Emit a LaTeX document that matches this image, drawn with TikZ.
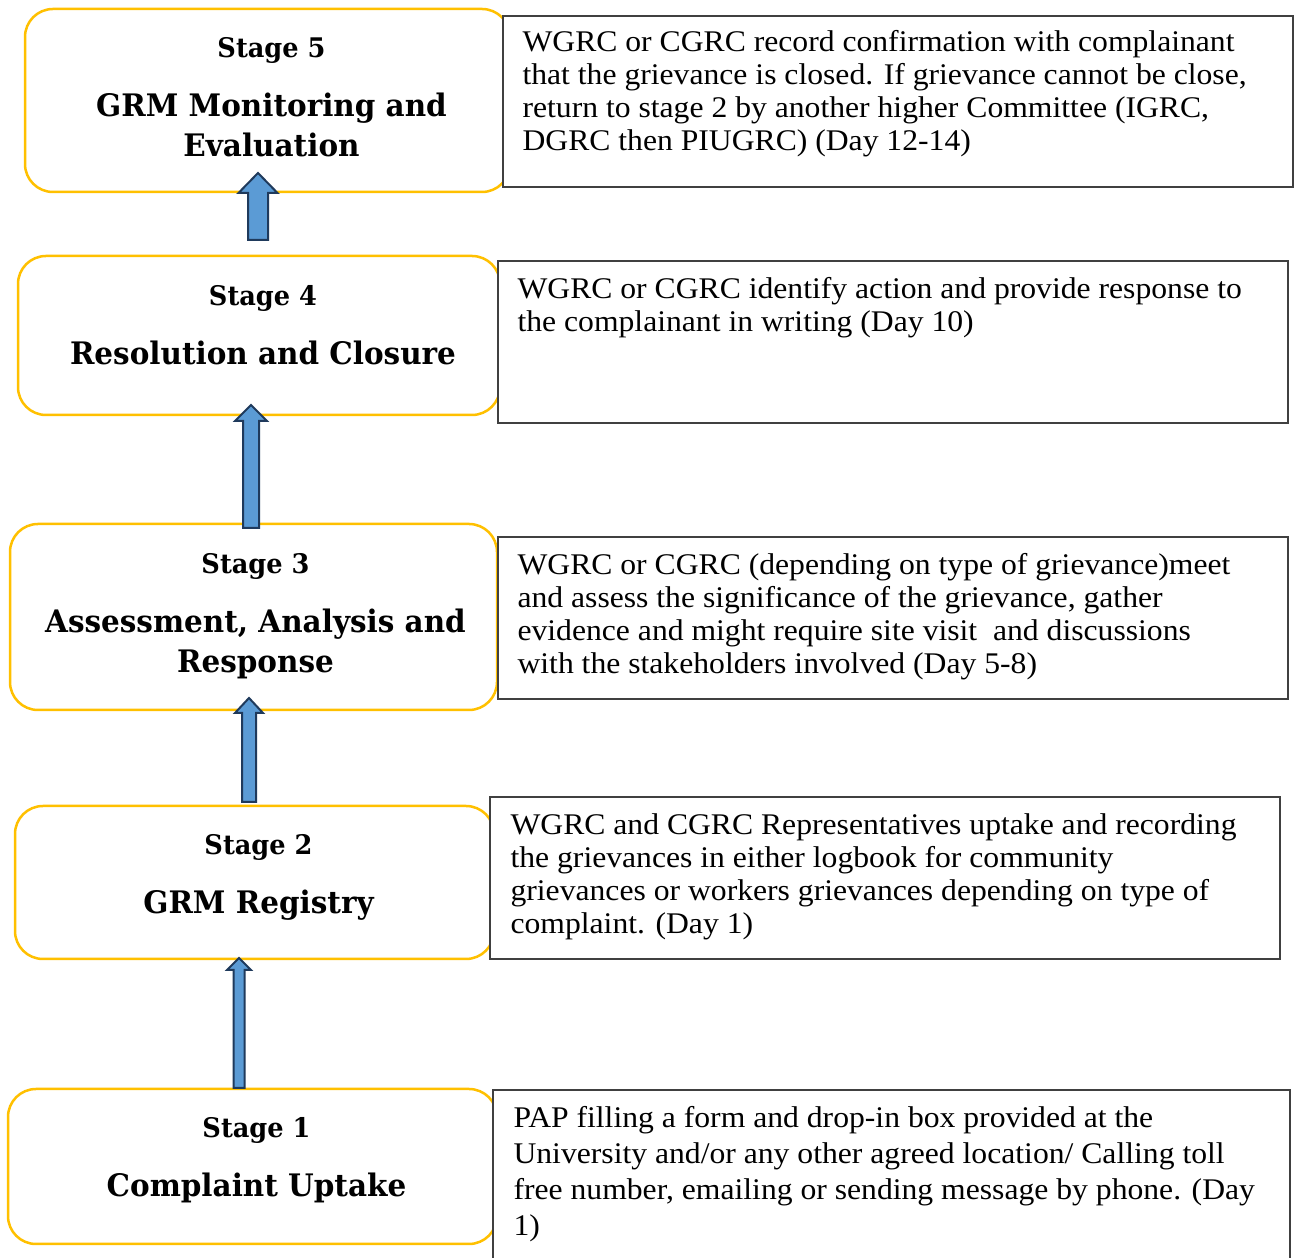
\documentclass[tikz,border=0pt]{standalone}
\usepackage{fontspec}
\setmainfont{Liberation Serif}[FakeStretch=1.055]
\newfontfamily\hdfont{DejaVu Serif}[FakeStretch=0.95]
\usepackage{tikz}
\usetikzlibrary{positioning,calc}
\definecolor{cStage}{HTML}{FFC000}
\definecolor{cArrow}{HTML}{5B9BD5}
\definecolor{cArrowEdge}{HTML}{1F3A5C}
\definecolor{cDesc}{HTML}{404040}
\tikzset{
  stg/.style   = {rectangle, rounded corners=28pt, draw=cStage, fill=white,
                  line width=2.5pt, inner sep=0pt},
  hd/.style    = {align=center, inner sep=0pt, xshift=4pt,
                  font=\hdfont\bfseries\fontsize{31}{40}\selectfont},
  dsc/.style   = {rectangle, draw=cDesc, fill=white, line width=1.3pt,
                  inner sep=0pt, minimum width=790pt},
  dtxt/.style  = {align=left, inner sep=0pt, font=\fontsize{30}{33}\selectfont},
  blk/.style   = {draw=cArrowEdge, fill=cArrow, line width=2pt, line join=miter},
}
\newcommand\stagelbl[1]{{\fontsize{27}{27}\selectfont Stage #1}\\[19pt]}
% block arrow: bottom, tip, half shaft, half head, head length
\newcommand\blockarrow[5]{%
  \draw[blk] ($(#1)+(-#3,0)$) -- ($(#2)+(-#3,-#5)$) -- ($(#2)+(-#4,-#5)$) -- (#2)
    -- ($(#2)+(#4,-#5)$) -- ($(#2)+(#3,-#5)$) -- ($(#1)+(#3,0)$) -- cycle;}

\begin{document}
\begin{tikzpicture}[x=1pt, y=1pt]
  \clip (0,0) rectangle (1294,1258);
  \fill[white] (0,0) rectangle (1294,1258);

  % stages
  \node[stg, minimum width=485pt, minimum height=183pt] (s5) at (267.5,1157.5) {};
  \node[stg, minimum width=482pt, minimum height=159pt] (s4) at (259,922.5) {};
  \node[stg, minimum width=487pt, minimum height=186pt] (s3) at (253.5,641) {};
  \node[stg, minimum width=479pt, minimum height=153pt] (s2) at (254.5,375.5) {};
  \node[stg, minimum width=489pt, minimum height=155pt] (s1) at (252.5,91.5) {};

  \node[hd, below=30pt of s5.north] (h5) {\stagelbl{5}GRM Monitoring and\\ Evaluation};
  \node[hd, below=31pt of s4.north] (h4) {\stagelbl{4}Resolution and Closure};
  \node[hd, below=31pt of s3.north, xshift=-2pt] (h3) {\stagelbl{3}Assessment, Analysis and\\ Response};
  \node[hd, below=30pt of s2.north] (h2) {\stagelbl{2}GRM Registry};
  \node[hd, below=30pt of s1.north] (h1) {\stagelbl{1}Complaint Uptake};

  % descriptions
  \node[dsc, minimum height=171pt] (d5) at (898,1156.5) {};
  \node[dsc, minimum height=162pt] (d4) at (893,916) {};
  \node[dsc, minimum height=162pt] (d3) at (893,640) {};
  \node[dsc, minimum height=162pt] (d2) at (885,380) {};
  \node[dsc, minimum width=797pt, minimum height=175pt] (d1) at (891.5,80.5) {};

  \node[dtxt, below right=15pt and 20pt of d5.north west] (t5)
    {WGRC or CGRC record confirmation with complainant\\
     that the grievance is closed. If grievance cannot be close,\\
     return to stage 2 by another higher Committee (IGRC,\\
     DGRC then PIUGRC) (Day 12-14)};
  \node[dtxt, below right=16.5pt and 20pt of d4.north west] (t4)
    {WGRC or CGRC identify action and provide response to\\
     the complainant in writing (Day 10)};
  \node[dtxt, below right=16.5pt and 20pt of d3.north west] (t3)
    {WGRC or CGRC (depending on type of grievance)meet\\
     and assess the significance of the grievance, gather\\
     evidence and might require site visit~ and discussions\\
     with the stakeholders involved (Day 5-8)};
  \node[dtxt, below right=17pt and 21pt of d2.north west] (t2)
    {WGRC and CGRC Representatives uptake and recording\\
     the grievances in either logbook for community\\
     grievances or workers grievances depending on type of\\
     complaint. (Day 1)};
  \node[dtxt, below right=17pt and 21pt of d1.north west,
        font=\fontsize{30}{36}\selectfont] (t1)
    {PAP filling a form and drop-in box provided at the\\
     University and/or any other agreed location/ Calling toll\\
     free number, emailing or sending message by phone. (Day\\
     1)};

  % arrows
  \coordinate (a5b) at (258,1018);  \coordinate (a5t) at (258,1085);
  \coordinate (a4b) at (251,730);   \coordinate (a4t) at (251,853);
  \coordinate (a3b) at (249,456);   \coordinate (a3t) at (249,560);
  \coordinate (a2b) at (239,170);   \coordinate (a2t) at (239,300);
  \blockarrow{a5b}{a5t}{10}{19.5}{20}
  \blockarrow{a4b}{a4t}{8}{16}{16}
  \blockarrow{a3b}{a3t}{7}{14}{15}
  \blockarrow{a2b}{a2t}{5.5}{12}{12}
\end{tikzpicture}
\end{document}
